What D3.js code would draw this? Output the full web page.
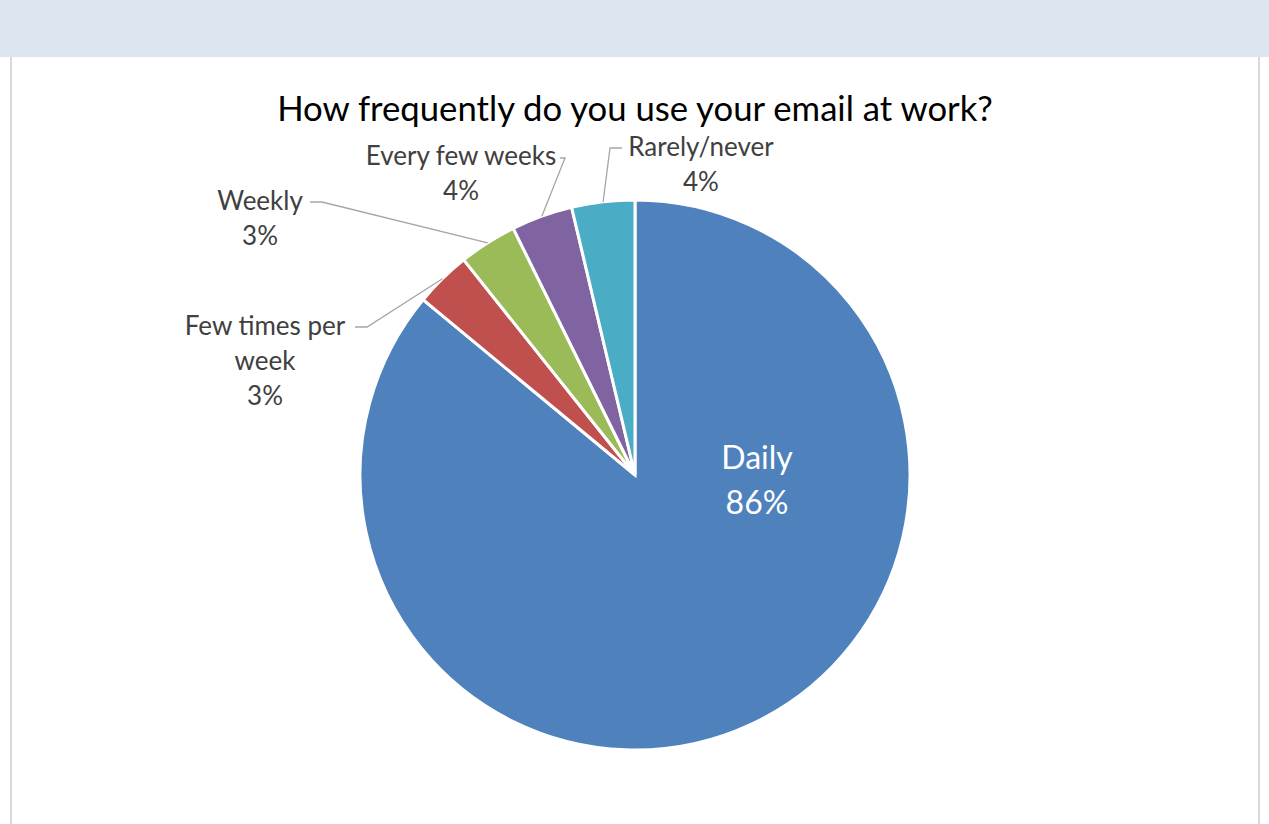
<!DOCTYPE html>
<html><head><meta charset="utf-8">
<script src="https://cdn.jsdelivr.net/npm/d3@7"></script>
<style>
html,body{margin:0;padding:0;background:#fff;}
svg{display:block;}
</style></head>
<body>
<svg id="chart" width="1269" height="824"></svg>
<script>
const title = "How frequently do you use your email at work?";
const categories = ["Daily", "Few times per week", "Weekly", "Every few weeks", "Rarely/never"];
const values = [86.0, 3.3, 3.4, 3.6, 3.7];
const percentLabels = ["86%", "3%", "3%", "4%", "4%"];
const labelLines = [["Daily"], ["Few times per", "week"], ["Weekly"], ["Every few weeks"], ["Rarely/never"]];
const colors = ["#4F81BD", "#C0504D", "#9BBB59", "#8064A2", "#4BACC6"];

const W = 1269, H = 824;
const svg = d3.select("#chart");
const FONT = "Lato, 'Open Sans', sans-serif";

// header band and frame
svg.append("rect").attr("x",0).attr("y",0).attr("width",W).attr("height",57).attr("fill","#DCE6F1");
svg.append("line").attr("x1",11).attr("x2",11).attr("y1",57).attr("y2",H).attr("stroke","#D9D9D9").attr("stroke-width",2);
svg.append("line").attr("x1",1259).attr("x2",1259).attr("y1",57).attr("y2",H).attr("stroke","#D9D9D9").attr("stroke-width",2);

// title
const t = svg.append("text").attr("x",635).attr("y",121).attr("text-anchor","middle")
  .attr("font-family",FONT).attr("font-size",31).attr("fill","#000").text(title);
const tw = t.node().getComputedTextLength();
t.attr("font-size", 31*716/tw);

const cx = 635, cy = 475, R = 275;
const g = svg.append("g").attr("transform",`translate(${cx},${cy})`);
const pie = d3.pie().sort(null).value(d=>d)(values);
const arc = d3.arc().innerRadius(0).outerRadius(R);

g.selectAll("path.slice").data(pie).join("path").attr("class","slice")
  .attr("d",arc).attr("fill",(d,i)=>colors[i])
  .attr("stroke","#fff").attr("stroke-width",3).attr("stroke-linejoin","miter");

// inside label for Daily
const it = g.append("text").attr("font-family",FONT).attr("font-size",32).attr("fill","#fff").attr("text-anchor","middle");
it.append("tspan").attr("x",122).attr("y",-6).text(labelLines[0][0]);
it.append("tspan").attr("x",122).attr("y",39).text(percentLabels[0]);

// outside labels: elbow point, elbow end, first baseline (relative to center)
const labelLayout = [
  null,
  {elbow:[-268,-148], end:[-280,-148], text:[-370,-140]},
  {elbow:[-313,-273], end:[-325,-273], text:[-375,-265]},
  {elbow:[-70,-317], end:[-75,-317], text:[-174,-310]},
  {elbow:[-25,-327], end:[-13,-327], text:[66,-319]}
];

const lineGen = d3.line();
const FS = 26, LH = 35;
pie.forEach((d,i)=>{
  if(i===0) return;
  const L = labelLayout[i];
  const mid = (d.startAngle + d.endAngle)/2;
  const p0 = [Math.sin(mid)*R, -Math.cos(mid)*R];
  g.append("path").attr("d", lineGen([p0, L.elbow, L.end]))
    .attr("fill","none").attr("stroke","#A6A6A6").attr("stroke-width",1.3);
  const lines = labelLines[i].concat([percentLabels[i]]);
  const tx = g.append("text").attr("font-family",FONT).attr("font-size",FS).attr("fill","#404040").attr("text-anchor","middle");
  lines.forEach((s,k)=>{
    tx.append("tspan").attr("x",L.text[0]).attr("y",L.text[1] + k*LH).text(s);
  });
});
</script>
</body></html>
